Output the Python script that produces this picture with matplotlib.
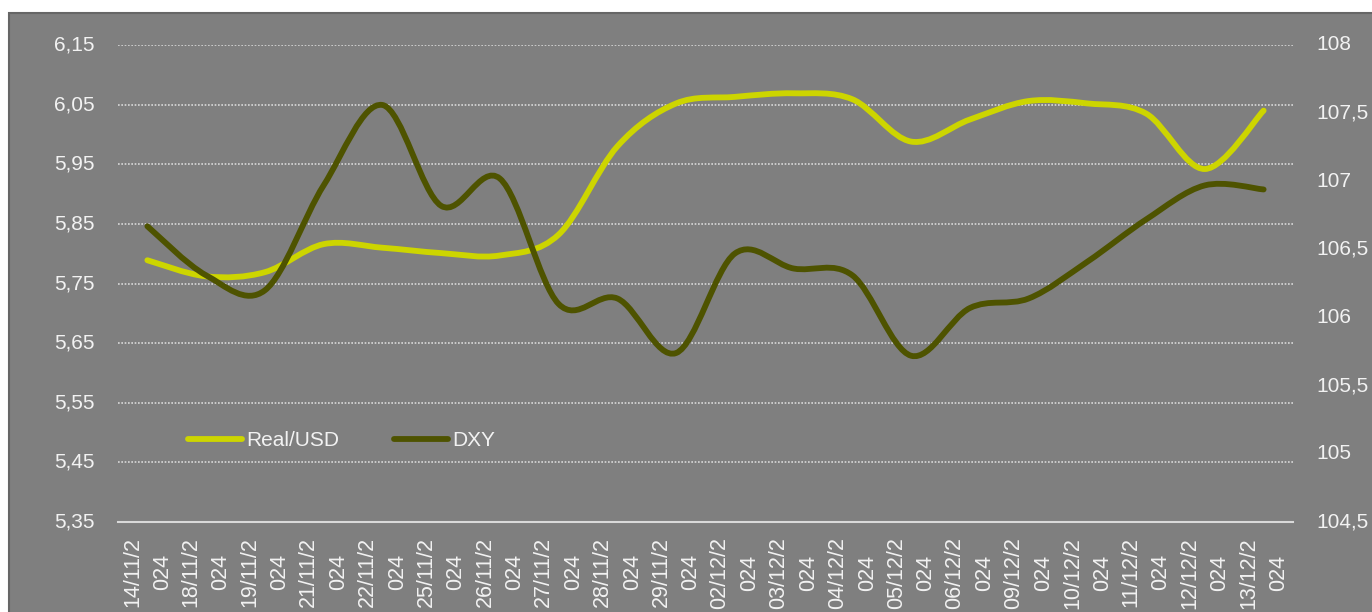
import matplotlib
matplotlib.use("Agg")
import matplotlib.pyplot as plt
from matplotlib.path import Path
from matplotlib.patches import PathPatch, Rectangle
from matplotlib.lines import Line2D
from matplotlib.ticker import FixedLocator, FuncFormatter

# Daily closes, 14/11/2024 - 13/12/2024
dates = ["14/11/2024", "18/11/2024", "19/11/2024", "21/11/2024", "22/11/2024",
         "25/11/2024", "26/11/2024", "27/11/2024", "28/11/2024", "29/11/2024",
         "02/12/2024", "03/12/2024", "04/12/2024", "05/12/2024", "06/12/2024",
         "09/12/2024", "10/12/2024", "11/12/2024", "12/12/2024", "13/12/2024"]
real_usd = [5.789, 5.762, 5.769, 5.816, 5.810, 5.801, 5.797, 5.832, 5.980, 6.052,
            6.063, 6.069, 6.059, 5.988, 6.025, 6.056, 6.052, 6.035, 5.942, 6.040]
dxy = [106.67, 106.31, 106.20, 106.97, 107.56, 106.82, 107.02, 106.10, 106.14, 105.74,
       106.47, 106.36, 106.31, 105.72, 106.07, 106.14, 106.41, 106.72, 106.97, 106.94]

left_ticks = [5.35, 5.45, 5.55, 5.65, 5.75, 5.85, 5.95, 6.05, 6.15]
right_ticks = [104.5, 105, 105.5, 106, 106.5, 107, 107.5, 108]

BG = "#7f7f7f"
TXT = "#f2f2f2"
GRID = "#d9d9d9"
C_REAL = "#cdd500"
C_DXY = "#4e5300"
LW = 4.2

plt.rcParams["font.family"] = ["Liberation Sans", "DejaVu Sans"]
plt.rcParams["font.size"] = 15

W, H = 1372, 612
fig = plt.figure(figsize=(W / 100, H / 100), dpi=100, facecolor="white")

# grey chart area, running off the right and bottom edges
fig.add_artist(Rectangle((9 / W, -0.05), 1.1, (H - 13) / H + 0.05,
                         transform=fig.transFigure, facecolor=BG,
                         edgecolor="#666666", linewidth=1.5, zorder=0))

ax = fig.add_axes([118 / W, 1 - 522 / H, (1293 - 118) / W, (522 - 45) / H])
ax.set_facecolor("none")
ax2 = ax.twinx()
ax2.set_facecolor("none")


def smooth_path(xs, ys):
    # Catmull-Rom style cubic Bezier segments through every point
    n = len(xs)
    pts = list(zip(xs, ys))
    verts = [pts[0]]
    codes = [Path.MOVETO]
    for i in range(n - 1):
        p0 = pts[max(i - 1, 0)]
        p1 = pts[i]
        p2 = pts[i + 1]
        p3 = pts[min(i + 2, n - 1)]
        c1 = (p1[0] + (p2[0] - p0[0]) / 6, p1[1] + (p2[1] - p0[1]) / 6)
        c2 = (p2[0] - (p3[0] - p1[0]) / 6, p2[1] - (p3[1] - p1[1]) / 6)
        verts += [c1, c2, p2]
        codes += [Path.CURVE4] * 3
    return Path(verts, codes)


x = list(range(len(dates)))
ax.add_patch(PathPatch(smooth_path(x, real_usd), facecolor="none", edgecolor=C_REAL,
                       linewidth=LW, capstyle="round", joinstyle="round", zorder=3))
ax2.add_patch(PathPatch(smooth_path(x, dxy), facecolor="none", edgecolor=C_DXY,
                        linewidth=LW, capstyle="round", joinstyle="round", zorder=3))

ax.set_xlim(-0.5, len(dates) - 0.5)
ax.set_ylim(left_ticks[0], left_ticks[-1])
ax2.set_ylim(right_ticks[0], right_ticks[-1])

comma = lambda v, _: (f"{v:g}").replace(".", ",")
ax.yaxis.set_major_locator(FixedLocator(left_ticks))
ax.yaxis.set_major_formatter(FuncFormatter(lambda v, _: f"{v:.2f}".replace(".", ",")))
ax2.yaxis.set_major_locator(FixedLocator(right_ticks))
ax2.yaxis.set_major_formatter(FuncFormatter(comma))

# dotted horizontal gridlines (bottom one replaced by the solid axis line)
for t in left_ticks[1:]:
    ax.axhline(t, color=GRID, linewidth=1.2, linestyle=(0, (1, 1)), zorder=1)

ax.set_xticks(x)
ax.set_xticklabels([d[:7] + "\n" + d[7:] for d in dates], rotation=90,
                   ha="center", va="top", multialignment="center", linespacing=1.55)

for a in (ax, ax2):
    for s in a.spines.values():
        s.set_visible(False)
    a.tick_params(length=0, colors=TXT, labelsize=15)
ax.spines["bottom"].set_visible(True)
ax.spines["bottom"].set_color(GRID)
ax.spines["bottom"].set_linewidth(1.5)
ax.tick_params(axis="y", pad=17)
ax2.tick_params(axis="y", pad=17)
ax.tick_params(axis="x", pad=11, labelsize=15.5)
for lbl in ax.get_yticklabels() + ax2.get_yticklabels():
    lbl.set_verticalalignment("center")

handles = [Line2D([], [], color=C_REAL, linewidth=LW, solid_capstyle="round"),
           Line2D([], [], color=C_DXY, linewidth=LW, solid_capstyle="round")]
leg = fig.legend(handles, ["Real/USD", "DXY"], loc="center left",
                 bbox_to_anchor=(188 / W, 1 - 441 / H), ncol=2, frameon=False,
                 handlelength=2.6, handletextpad=0.2, columnspacing=2.6,
                 borderpad=0, borderaxespad=0, fontsize=15)
for t in leg.get_texts():
    t.set_color(TXT)

fig.savefig("out.png", dpi=100, facecolor="white")
